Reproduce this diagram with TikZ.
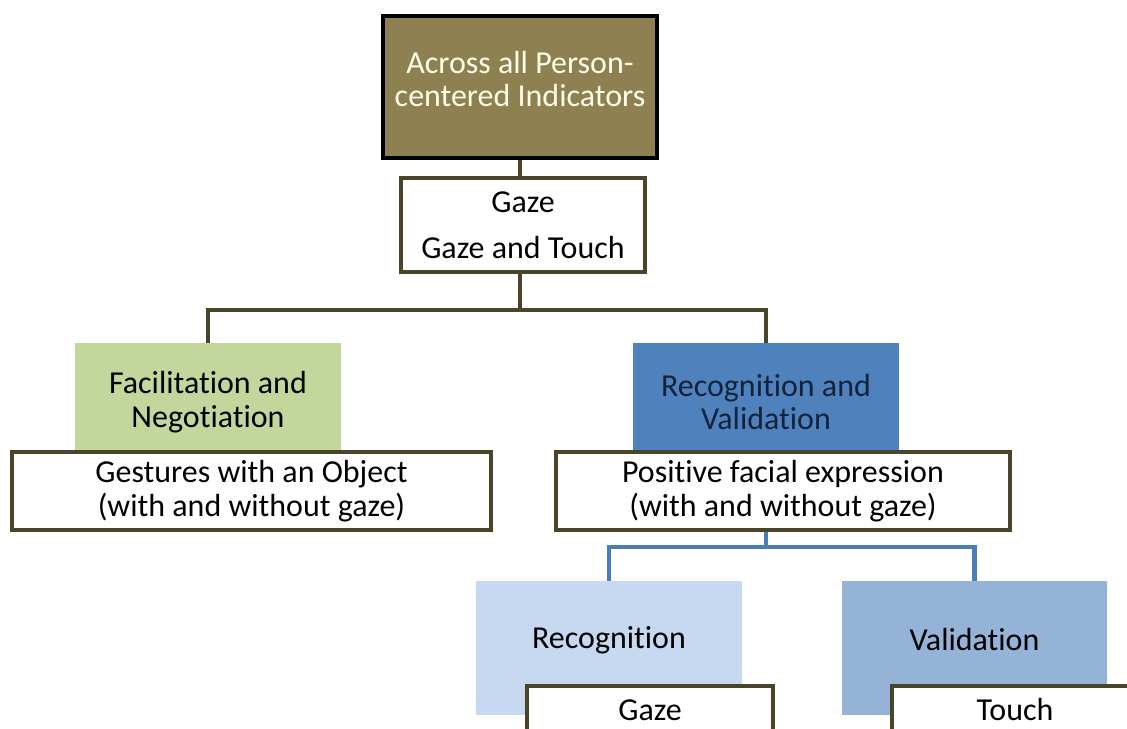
\documentclass[tikz,border=0pt]{standalone}
\usepackage{fontspec}
\setmainfont{Carlito}[Ligatures=NoCommon]
\definecolor{olivefill}{RGB}{142,128,80}
\definecolor{oliveline}{RGB}{74,69,42}
\definecolor{greenfill}{RGB}{195,214,155}
\definecolor{bluefill}{RGB}{79,129,189}
\definecolor{lightbluefill}{RGB}{198,217,241}
\definecolor{midbluefill}{RGB}{149,179,215}
\definecolor{blueline}{RGB}{74,126,187}
\definecolor{navytext}{RGB}{20,35,60}
\definecolor{creamtext}{RGB}{255,252,232}

\begin{document}
\begin{tikzpicture}[x=0.02cm,y=-0.02cm,
	boxtext/.style={inner sep=0pt,align=center,font=\fontsize{18.2}{19.3}\selectfont},
	colorbox/.style={boxtext,rectangle,minimum width=5.32cm},
	whitebox/.style={boxtext,rectangle,draw=oliveline,line width=2.3pt,fill=white},
	olivelink/.style={draw=oliveline,line width=2.6pt},
	bluelink/.style={draw=blueline,line width=2.6pt}]
	\path[use as bounding box,clip] (0,0) rectangle (1127,729);
	\fill[white] (0,0) rectangle (1127,729);

	\node[rectangle,draw=black,line width=2.8pt,fill=olivefill,minimum width=5.48cm,minimum height=2.84cm] (all) at (520,87) {};
	\node[boxtext,text=creamtext] (alltext) at (520,79) {Across all Person-\\centered Indicators};
	\node[whitebox,minimum width=4.88cm,minimum height=1.88cm,font=\fontsize{18.2}{26}\selectfont] (gaze) at (523,225) {Gaze\\Gaze and Touch};

	\node[colorbox,fill=greenfill,minimum height=2.36cm] (facil) at (208,402) {Facilitation and\\Negotiation};
	\node[colorbox,fill=bluefill,text=navytext,minimum height=2.36cm] (recval) at (766,402) {Recognition and\\Validation};

	\draw[olivelink] (all.south) -- (all.south |- gaze.north);
	\draw[olivelink] (gaze.south -| all.south) -- ++(0,36) -| (facil.north);
	\draw[olivelink] (gaze.south -| all.south) -- ++(0,36) -| (recval.north);

	\node[whitebox,minimum width=9.58cm,minimum height=1.56cm] (gest) at (251.5,491) {Gestures with an Object\\(with and without gaze)};
	\node[whitebox,minimum width=9.08cm,minimum height=1.56cm] (pos) at (783,491) {Positive facial expression\\(with and without gaze)};

	\node[colorbox,fill=lightbluefill,minimum height=2.68cm] (recog) at (609,648) {};
	\node[boxtext] (recogtext) at (609,640) {Recognition};
	\node[colorbox,fill=midbluefill,minimum height=2.68cm] (valid) at (974.5,648) {};
	\node[boxtext] (validtext) at (974.5,640) {Validation};

	\draw[bluelink] (pos.south -| recval.south) -- ++(0,15) -| (recog.north);
	\draw[bluelink] (pos.south -| recval.south) -- ++(0,15) -| (valid.north);

	\node[whitebox,minimum width=4.92cm,minimum height=2cm] (gazeb) at (650,736) {};
	\node[boxtext] (gazebtext) at (650,710) {Gaze};
	\node[whitebox,minimum width=4.92cm,minimum height=2cm] (touch) at (1015,736) {};
	\node[boxtext] (touchtext) at (1015,710) {Touch};
\end{tikzpicture}
\end{document}
